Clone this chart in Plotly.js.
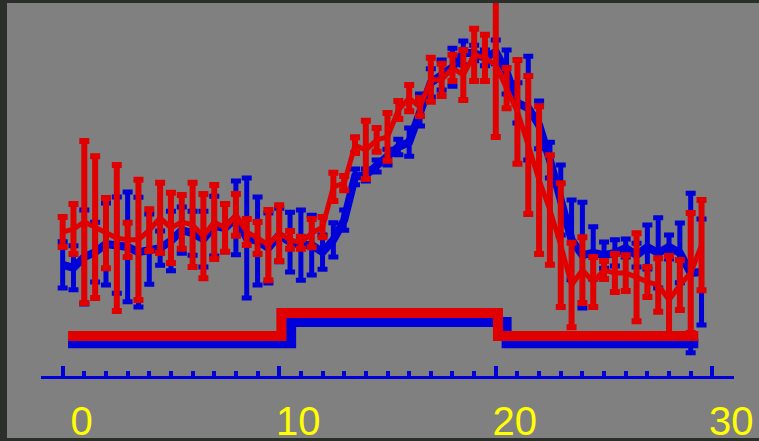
<!DOCTYPE html>
<html>
<head>
<meta charset="utf-8">
<script src="https://cdn.plot.ly/plotly-3.0.1.min.js"></script>
<style>
  html, body { margin: 0; padding: 0; background: #2b2f2a; width: 759px; height: 441px; overflow: hidden; }
  #chart { position: absolute; left: 7px; top: 3px; width: 752px; height: 435px; }
</style>
</head>
<body>
<div id="chart"></div>
<script>
const xValues = [0,0.5,1,1.5,2,2.5,3,3.5,4,4.5,5,5.5,6,6.5,7,7.5,8,8.5,9,9.5,
  10,10.5,11,11.5,12,12.5,13,13.5,14,14.5,15,15.5,16,16.5,17,17.5,18,18.5,19,19.5,
  20,20.5,21,21.5,22,22.5,23,23.5,24,24.5,25,25.5,26,26.5,27,27.5,28,28.5,29,29.5];

const blueMean = [29.8,29.0,31.9,33.2,35.4,35.1,34.6,33.2,34.0,34.3,
  36.2,39.1,38.3,36.7,40.2,39.7,42.4,37.0,36.2,34.3,
  37.8,35.9,35.1,35.1,33.2,36.5,41.8,53.4,53.9,56.3,
  58.7,61.4,62.7,71.3,78.6,80.7,82.8,86.6,86.6,85.3,
  86.9,81.5,73.2,71.8,67.3,57.9,47.2,36.5,32.4,33.0,
  32.4,33.0,34.3,32.4,34.6,33.0,34.6,33.0,27.6,27.9];
const blueErr = [6.2,5.9,12.6,8.0,11.0,12.9,14.7,14.7,9.4,4.6,
  8.0,6.2,5.9,7.5,8.0,6.4,9.9,16.1,11.8,9.4,
  7.2,8.0,9.4,8.0,4.6,4.6,2.7,2.1,1.6,1.6,
  2.1,2.1,3.8,4.3,3.8,4.0,5.1,3.2,2.1,2.1,
  3.2,5.9,5.4,13.9,6.4,4.8,9.4,10.7,14.2,7.0,
  3.5,3.5,2.4,3.2,5.9,9.4,3.2,8.0,21.4,14.2];

const redMean = [38.6,39.4,41.3,39.9,38.3,37.0,36.5,36.5,39.1,42.4,
  39.7,41.3,40.5,37.5,41.3,39.7,43.2,38.6,37.0,35.1,
  38.3,36.5,35.7,38.3,39.9,50.7,51.7,61.9,60.6,63.3,
  64.1,71.3,74.5,72.1,79.4,79.4,82.6,80.7,86.1,85.3,
  83.4,77.2,70.8,61.9,52.5,44.5,35.1,24.4,28.4,25.2,
  28.4,27.6,27.6,26.5,25.2,24.4,20.4,24.4,27.6,35.1];
const redErr = [4.0,6.7,21.7,19.0,9.4,19.6,4.6,16.1,5.6,9.4,
  9.4,7.2,11.3,11.3,9.9,6.4,5.6,3.5,4.3,9.4,
  7.5,2.4,1.6,3.8,2.7,3.8,1.9,2.1,7.8,3.2,
  6.4,2.4,3.5,2.4,5.9,4.3,3.5,6.7,7.0,6.2,
  19.3,5.4,13.9,18.5,19.8,14.7,16.6,11.3,8.8,6.7,
  2.4,5.1,4.8,11.8,4.0,7.2,11.8,6.7,16.1,12.1];

const stepXBlue = [0.25, 10.55, 20.5, 29.35];
const stepYBlue = [8.8, 14.5, 8.8, 8.8];
const stepXRed = [0.25, 10.1, 20.1, 29.35];
const stepYRed = [10.7, 16.9, 10.7, 10.7];

const tickValues = [0, 10, 20, 30];
const tickLabels = ['0', '10', '20', '30'];

const BLUE = '#0000d8';
const RED = '#e00000';

const traces = [
  {
    x: xValues, y: blueMean, type: 'scatter', mode: 'lines',
    line: { color: BLUE, width: 8 },
    error_y: { type: 'data', array: blueErr, visible: true, color: BLUE, thickness: 5, width: 5 },
    hoverinfo: 'skip'
  },
  {
    x: xValues, y: redMean, type: 'scatter', mode: 'lines',
    line: { color: RED, width: 5 },
    error_y: { type: 'data', array: redErr, visible: true, color: RED, thickness: 6, width: 5 },
    hoverinfo: 'skip'
  },
  {
    x: stepXBlue, y: stepYBlue, type: 'scatter', mode: 'lines',
    line: { color: BLUE, width: 10, shape: 'hv' }, hoverinfo: 'skip'
  },
  {
    x: stepXRed, y: stepYRed, type: 'scatter', mode: 'lines',
    line: { color: RED, width: 10, shape: 'hv' }, hoverinfo: 'skip'
  }
];

const layout = {
  width: 752, height: 435,
  paper_bgcolor: '#808080', plot_bgcolor: '#808080',
  margin: { l: 34, r: 25, t: 0, b: 62, pad: 0 },
  showlegend: false,
  xaxis: {
    range: [-1, 31],
    showgrid: false, zeroline: false,
    showline: true, linecolor: BLUE, linewidth: 3,
    tickmode: 'array', tickvals: tickValues, ticktext: tickLabels,
    ticks: 'inside', ticklen: 10, tickwidth: 4, tickcolor: BLUE,
    ticklabelshift: 19, ticklabelstandoff: 8,
    tickfont: { family: 'Liberation Sans, Arial, sans-serif', size: 40, color: '#ffff00' },
    minor: { dtick: 1, tick0: 0, ticks: 'inside', ticklen: 5, tickwidth: 4, tickcolor: BLUE, showgrid: false }
  },
  yaxis: {
    range: [0, 100], visible: false, showgrid: false, zeroline: false
  }
};

Plotly.newPlot('chart', traces, layout, { staticPlot: true, displayModeBar: false });
</script>
</body>
</html>
